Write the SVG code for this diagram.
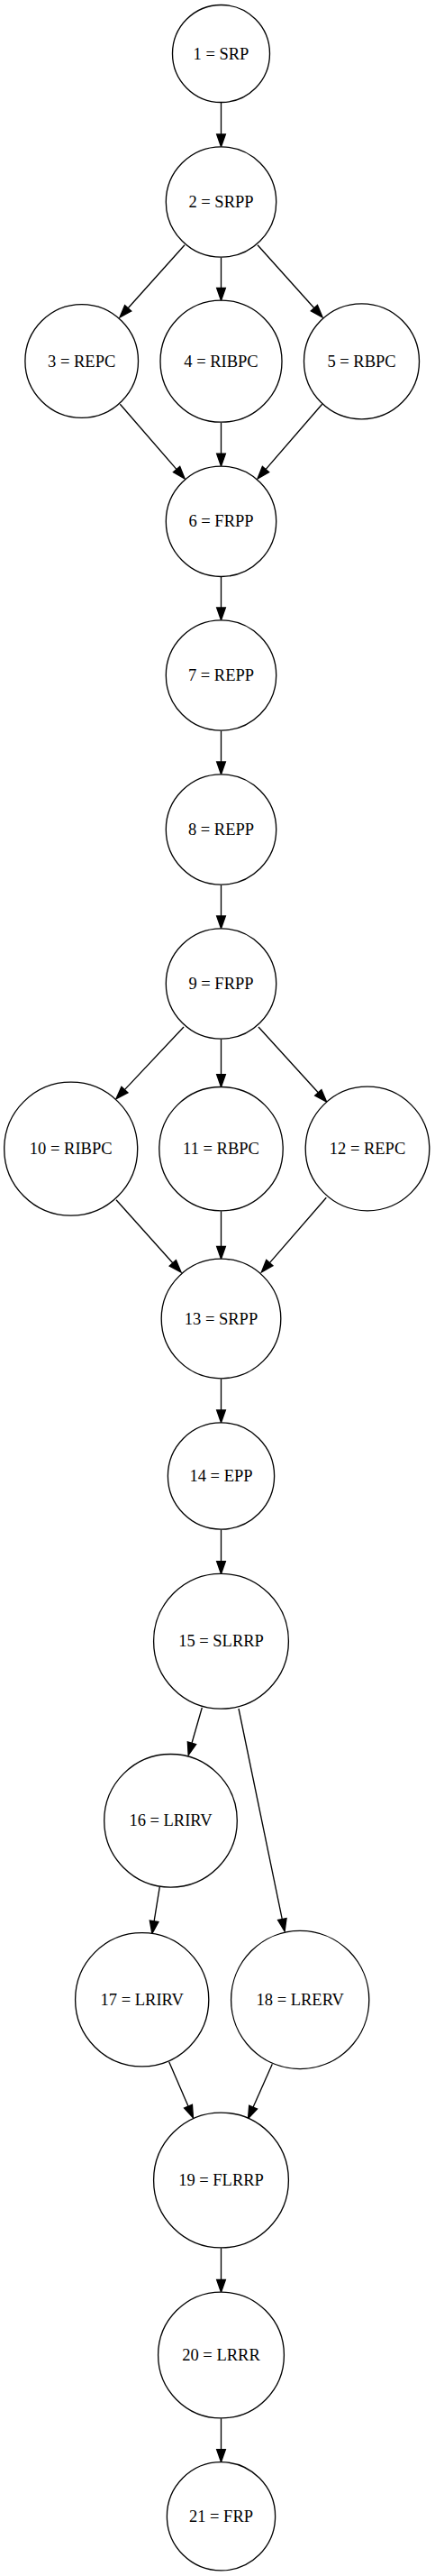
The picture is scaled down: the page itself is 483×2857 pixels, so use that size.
<svg xmlns="http://www.w3.org/2000/svg" width="483" height="2857" viewBox="0 0 483 2857">
<style>
.n circle{fill:#fff;stroke:#000;stroke-width:1.33}
.n text{font-family:"Liberation Serif","Times New Roman",serif;font-size:18.5px;text-anchor:middle;fill:#000}
.e line{stroke:#000;stroke-width:1.33;fill:none;marker-end:url(#ah)}
</style>
<defs>
<marker id="ah" markerUnits="userSpaceOnUse" markerWidth="16" markerHeight="12" viewBox="-1 -1 15.5 11.5" refX="0" refY="4.67" orient="auto" overflow="visible">
<path d="M0,0 L13.33,4.67 L0,9.33 Z" fill="#000" stroke="#000" stroke-width="1.33"/>
</marker>
</defs>
<rect width="483" height="2857" fill="#fff"/>
<g id="connectors" class="e">
<line x1="245.5" y1="114" x2="245.5" y2="149"/>
<line x1="205" y1="271.7" x2="142.2" y2="341.8"/>
<line x1="245.5" y1="285.7" x2="245.5" y2="319.4"/>
<line x1="286" y1="271.7" x2="348.9" y2="341.7"/>
<line x1="133.3" y1="448.3" x2="196.1" y2="520.6"/>
<line x1="245.5" y1="468.7" x2="245.5" y2="503.2"/>
<line x1="357.7" y1="448.3" x2="295" y2="520.6"/>
<line x1="245.5" y1="640" x2="245.5" y2="674"/>
<line x1="245.5" y1="810.7" x2="245.5" y2="845"/>
<line x1="245.5" y1="981.7" x2="245.5" y2="1016"/>
<line x1="204" y1="1139" x2="138.4" y2="1208.6"/>
<line x1="245.5" y1="1152.7" x2="245.5" y2="1191.7"/>
<line x1="287" y1="1139" x2="353.3" y2="1211.8"/>
<line x1="129" y1="1330.7" x2="191.8" y2="1400.8"/>
<line x1="245.5" y1="1343.3" x2="245.5" y2="1382.4"/>
<line x1="362.3" y1="1328.3" x2="299.4" y2="1400.6"/>
<line x1="245.5" y1="1529.3" x2="245.5" y2="1564"/>
<line x1="245.5" y1="1696.7" x2="245.5" y2="1731.7"/>
<line x1="224.3" y1="1894" x2="213" y2="1933.2"/>
<line x1="265" y1="1895" x2="313.3" y2="2128.6"/>
<line x1="177.3" y1="2092.7" x2="171.1" y2="2130.8"/>
<line x1="187.7" y1="2286.7" x2="209" y2="2336.1"/>
<line x1="302.3" y1="2289.3" x2="281.1" y2="2337.1"/>
<line x1="245.5" y1="2493.3" x2="245.5" y2="2528.4"/>
<line x1="245.5" y1="2682.3" x2="245.5" y2="2716.7"/>
</g>
<g id="node1" class="n"><circle cx="245.5" cy="59.5" r="54"/><text x="245.5" y="65.5">1 = SRP</text></g>
<g id="node2" class="n"><circle cx="245.5" cy="224" r="61.2"/><text x="245.5" y="230">2 = SRPP</text></g>
<g id="node3" class="n"><circle cx="90.7" cy="400.5" r="62.8"/><text x="90.7" y="406.5">3 = REPC</text></g>
<g id="node4" class="n"><circle cx="245.5" cy="400.7" r="67.5"/><text x="245.5" y="406.7">4 = RIBPC</text></g>
<g id="node5" class="n"><circle cx="401.5" cy="400.8" r="64"/><text x="401.5" y="406.8">5 = RBPC</text></g>
<g id="node6" class="n"><circle cx="245.5" cy="578.3" r="61.2"/><text x="245.5" y="584.3">6 = FRPP</text></g>
<g id="node7" class="n"><circle cx="245.5" cy="749" r="61.2"/><text x="245.5" y="755">7 = REPP</text></g>
<g id="node8" class="n"><circle cx="245.5" cy="920" r="61.2"/><text x="245.5" y="926">8 = REPP</text></g>
<g id="node9" class="n"><circle cx="245.5" cy="1091" r="61.2"/><text x="245.5" y="1097">9 = FRPP</text></g>
<g id="node10" class="n"><circle cx="78.7" cy="1274.2" r="74"/><text x="78.7" y="1280.2">10 = RIBPC</text></g>
<g id="node11" class="n"><circle cx="245.5" cy="1274.2" r="68.7"/><text x="245.5" y="1280.2">11 = RBPC</text></g>
<g id="node12" class="n"><circle cx="408" cy="1274" r="68.8"/><text x="408" y="1280">12 = REPC</text></g>
<g id="node13" class="n"><circle cx="245.5" cy="1462.5" r="66.3"/><text x="245.5" y="1468.5">13 = SRPP</text></g>
<g id="node14" class="n"><circle cx="245.5" cy="1637" r="59.1"/><text x="245.5" y="1643">14 = EPP</text></g>
<g id="node15" class="n"><circle cx="245.5" cy="1820.3" r="74.9"/><text x="245.5" y="1826.3">15 = SLRRP</text></g>
<g id="node16" class="n"><circle cx="189.5" cy="2019.3" r="73.8"/><text x="189.5" y="2025.3">16 = LRIRV</text></g>
<g id="node17" class="n"><circle cx="157.7" cy="2217.8" r="74.1"/><text x="157.7" y="2223.8">17 = LRIRV</text></g>
<g id="node18" class="n"><circle cx="333.2" cy="2218" r="76.6"/><text x="333.2" y="2224">18 = LRERV</text></g>
<g id="node19" class="n"><circle cx="245.5" cy="2418" r="74.9"/><text x="245.5" y="2424">19 = FLRRP</text></g>
<g id="node20" class="n"><circle cx="245.5" cy="2612" r="69.9"/><text x="245.5" y="2618">20 = LRRR</text></g>
<g id="node21" class="n"><circle cx="245.5" cy="2790.8" r="60.1"/><text x="245.5" y="2796.8">21 = FRP</text></g>
</svg>
